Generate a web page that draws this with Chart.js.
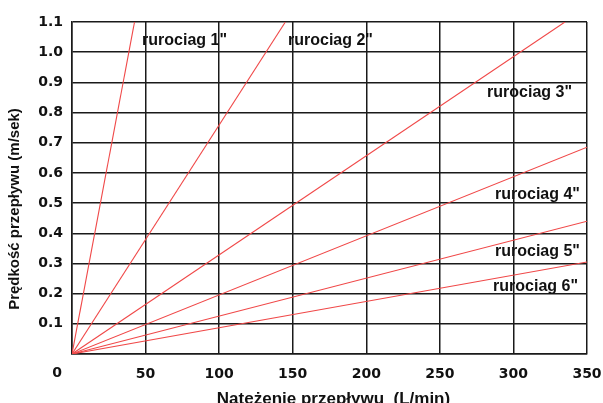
<!DOCTYPE html>
<html>
<head>
<meta charset="utf-8">
<script src="https://cdn.jsdelivr.net/npm/chart.js@4"></script>
<style>
html,body{margin:0;padding:0;background:#fff;}
#wrap{width:603px;height:403px;}
</style>
</head>
<body>
<div id="wrap"><canvas id="c" width="603" height="403"></canvas></div>
<script>
// Data (flow L/min -> velocity m/s)
const seriesNames = ['rurociag 1"', 'rurociag 2"', 'rurociag 3"', 'rurociag 4"', 'rurociag 5"', 'rurociag 6"'];
const pipe1X = [0, 42.5];  const pipe1Y = [0, 1.1];
const pipe2X = [0, 145];   const pipe2Y = [0, 1.1];
const pipe3X = [0, 335];   const pipe3Y = [0, 1.1];
const pipe4X = [0, 350];   const pipe4Y = [0, 0.685];
const pipe5X = [0, 350];   const pipe5Y = [0, 0.44];
const pipe6X = [0, 350];   const pipe6Y = [0, 0.305];
const xTicks = [0, 50, 100, 150, 200, 250, 300, 350];
const yTicks = [0.1, 0.2, 0.3, 0.4, 0.5, 0.6, 0.7, 0.8, 0.9, 1.0, 1.1];
const xTitle = 'Natężenie przepływu  (L/min)';
const yTitle = 'Prędkość przepływu (m/sek)';

// label anchor (data coords) for each series name
const labelAnchors = [
  {x: 47.6, y: 1.04, align: 'left'},
  {x: 146.8, y: 1.04, align: 'left'},
  {x: 339.8, y: 0.865, align: 'right'},
  {x: 345.2, y: 0.527, align: 'right'},
  {x: 345.2, y: 0.338, align: 'right'},
  {x: 343.9, y: 0.222, align: 'right'}
];

const xs = [pipe1X, pipe2X, pipe3X, pipe4X, pipe5X, pipe6X];
const ys = [pipe1Y, pipe2Y, pipe3Y, pipe4Y, pipe5Y, pipe6Y];
const RED = '#f04848';
const datasets = seriesNames.map((n, i) => ({
  label: n,
  data: xs[i].map((x, k) => ({x: x, y: ys[i][k]})),
  borderColor: RED,
  borderWidth: 1.1,
  pointRadius: 0,
  fill: false,
  tension: 0
}));

const TICK_FONT = {family: 'DejaVu Sans', size: 14, weight: 'bold'};

const textPlugin = {
  id: 'texts',
  afterDraw(chart) {
    const ctx = chart.ctx;
    const xs_ = chart.scales.x, ys_ = chart.scales.y;
    ctx.save();
    ctx.fillStyle = '#111';
    ctx.font = 'bold 16px "Liberation Sans"';
    ctx.textBaseline = 'middle';
    labelAnchors.forEach((a, i) => {
      ctx.textAlign = a.align;
      ctx.fillText(seriesNames[i], xs_.getPixelForValue(a.x), ys_.getPixelForValue(a.y));
    });
    // "0" origin label, offset left of origin as in reference
    ctx.font = 'bold 14px "DejaVu Sans"';
    ctx.textAlign = 'center';
    ctx.fillText('0', xs_.getPixelForValue(0) - 15, ys_.bottom + 19);
    // axis titles
    ctx.textAlign = 'center';
    ctx.font = 'bold 17px "Liberation Sans"';
    ctx.fillText(xTitle, (xs_.left + xs_.right) / 2 + 4, 399);
    ctx.font = 'bold 15px "Liberation Sans"';
    ctx.translate(15, (ys_.top + ys_.bottom) / 2 + 21);
    ctx.rotate(-Math.PI / 2);
    ctx.fillText(yTitle, 0, 0);
    ctx.restore();
  }
};

new Chart(document.getElementById('c'), {
  type: 'line',
  data: {datasets},
  options: {
    responsive: false,
    animation: false,
    layout: {padding: {top: 22, right: 16, left: 0, bottom: 0}},
    plugins: {legend: {display: false}, tooltip: {enabled: false}},
    scales: {
      x: {
        type: 'linear', min: 0, max: 350,
        afterBuildTicks: s => { s.ticks = xTicks.map(v => ({value: v})); },
        afterFit: s => { s.height = 49; s.paddingLeft = 0; s.paddingRight = 0; },
        grid: {color: '#1a1a1a', lineWidth: 1.5, drawTicks: false},
        border: {color: '#1a1a1a', width: 1.5},
        ticks: {
          font: TICK_FONT, color: '#111', padding: 12, maxRotation: 0,
          callback: v => (v === 0 ? '' : String(v))
        }
      },
      y: {
        type: 'linear', min: 0, max: 1.1,
        afterBuildTicks: s => { s.ticks = [0].concat(yTicks).map(v => ({value: v})); },
        afterFit: s => { s.width = 72; s.paddingTop = 0; s.paddingBottom = 0; },
        grid: {color: '#1a1a1a', lineWidth: 1.5, drawTicks: false},
        border: {color: '#1a1a1a', width: 1.5},
        ticks: {
          font: TICK_FONT, color: '#111', padding: 9,
          callback: v => (v === 0 ? '' : Number(v).toFixed(1))
        }
      }
    }
  },
  plugins: [textPlugin]
});
</script>
</body>
</html>
